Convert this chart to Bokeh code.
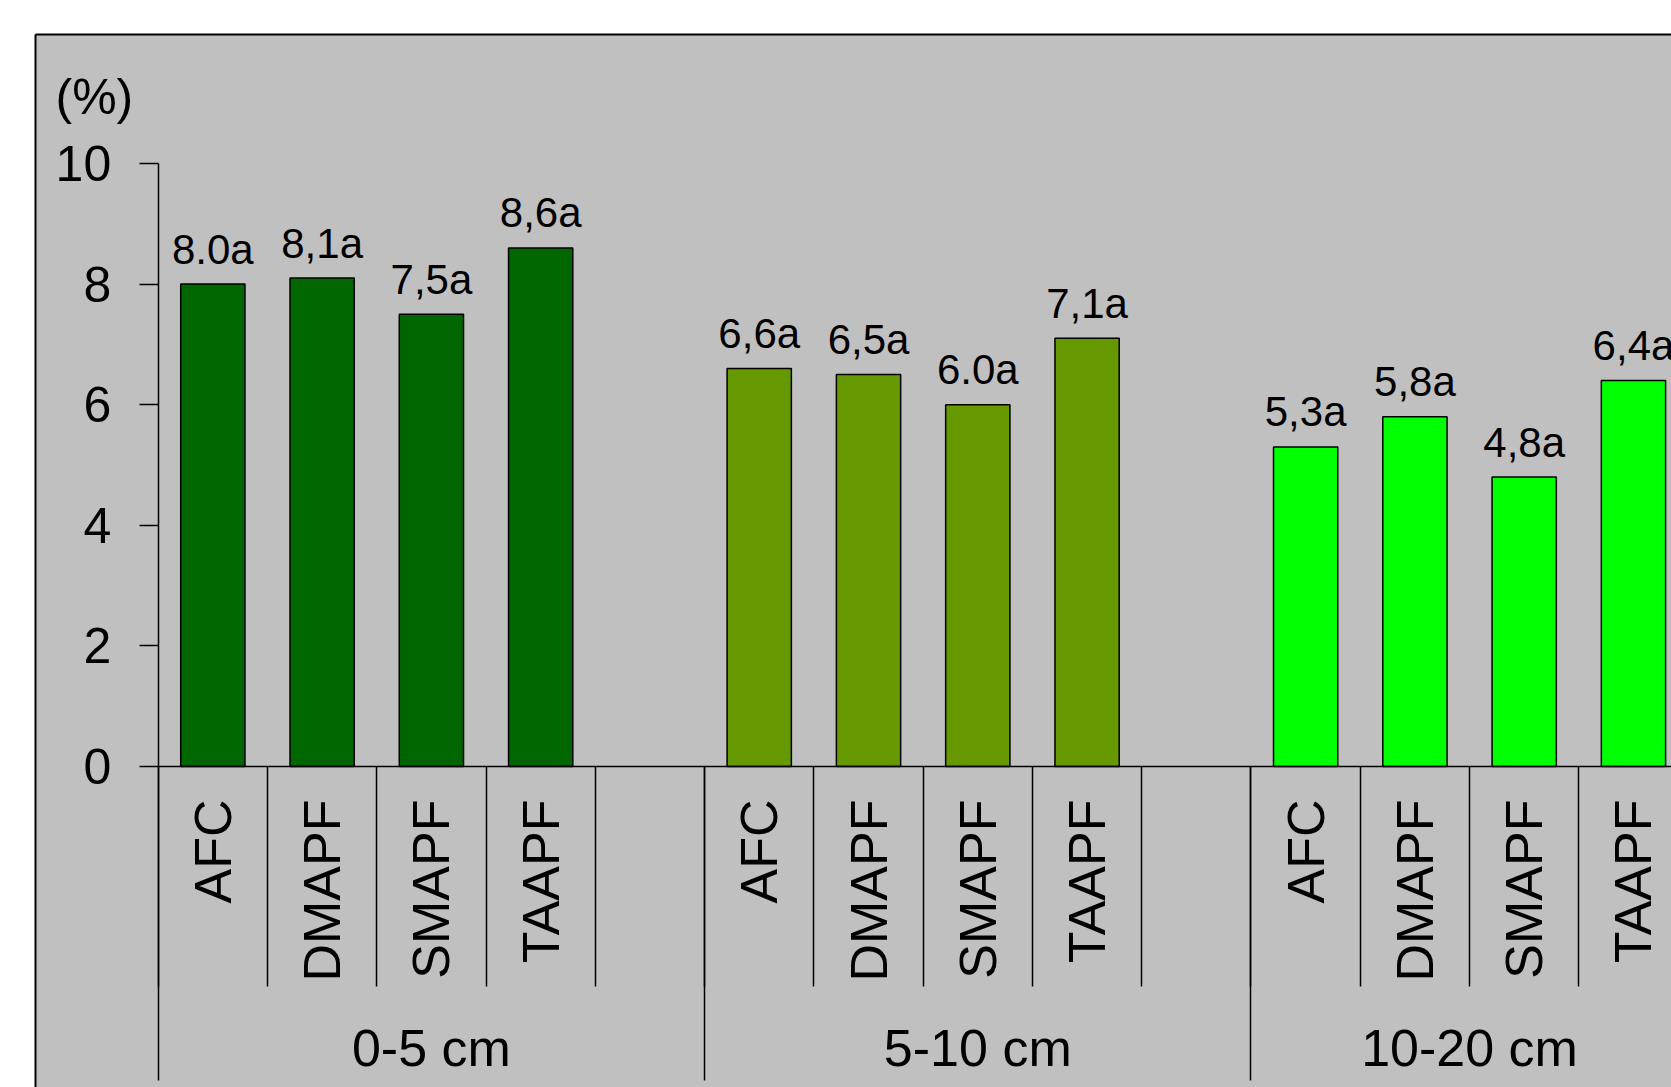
import math
from bokeh.plotting import figure
from bokeh.models import Range1d, LinearAxis, FixedTicker, Label, ColumnDataSource
from bokeh.embed import file_html
from bokeh.resources import INLINE
from bokeh.core.properties import value

# ---- data ----
groups = ["0-5 cm", "5-10 cm", "10-20 cm"]
treatments = ["AFC", "DMAPF", "SMAPF", "TAAPF"]
values_0_5 = [8.0, 8.1, 7.5, 8.6]
values_5_10 = [6.6, 6.5, 6.0, 7.1]
values_10_20 = [5.3, 5.8, 4.8, 6.4]
labels_0_5 = ["8.0a", "8,1a", "7,5a", "8,6a"]
labels_5_10 = ["6,6a", "6,5a", "6.0a", "7,1a"]
labels_10_20 = ["5,3a", "5,8a", "4,8a", "6,4a"]
group_colors = ["#006600", "#669900", "#00FF00"]
y_ticks = [0, 2, 4, 6, 8, 10]
y_label = "(%)"

FONT = "Liberation Sans"

all_values = [values_0_5, values_5_10, values_10_20]
all_labels = [labels_0_5, labels_5_10, labels_10_20]

# slot layout: each group = 4 bars + one empty slot (last group has no trailing slot)
xs, tops, texts, cols = [], [], [], []
treat_x, treat_names = [], []
group_centers = []
group_edges = []
start = 0
for g, (vals, labs) in enumerate(zip(all_values, all_labels)):
    n_slots = len(treatments) + (1 if g < len(groups) - 1 else 0)
    group_edges.append(start)
    for i, (v, lab) in enumerate(zip(vals, labs)):
        xs.append(start + i + 0.5)
        tops.append(v)
        texts.append(lab)
        cols.append(group_colors[g])
        treat_x.append(start + i + 0.5)
        treat_names.append(treatments[i])
    group_centers.append(start + n_slots / 2)
    start += n_slots
total_slots = start
group_edges.append(total_slots)
slot_edges = list(range(total_slots + 1))

src = ColumnDataSource(dict(x=xs, top=tops, label=texts, color=cols))


def key(v):
    return int(v) if float(v).is_integer() else v


p = figure(width=1671, height=1087,
           x_range=Range1d(-1.1228, 13.848), y_range=Range1d(-5.323, 12.139),
           x_axis_type=None, y_axis_type=None,
           toolbar_location=None, output_backend="svg",
           min_border_left=35, min_border_top=34, min_border_right=0, min_border_bottom=0,
           border_fill_color="white", background_fill_color="#c0c0c0",
           outline_line_color=None)
p.grid.visible = False

p.vbar(x="x", top="top", bottom=0, width=0.588, fill_color="color",
       line_color="black", line_width=1.5, source=src)
p.text(x="x", y="top", text="label", text_align="center", text_baseline="alphabetic",
       y_offset=-35, text_font=value(FONT), text_font_size="42px", text_color="black",
       source=src)

# y axis at x=0
yax = LinearAxis(fixed_location=0, bounds=(0, 10),
                 ticker=FixedTicker(ticks=y_ticks, minor_ticks=[]),
                 major_tick_in=0, major_tick_out=19, minor_tick_line_color=None,
                 major_label_standoff=28, major_label_text_font_size="50px",
                 major_label_text_font=FONT, major_label_text_color="black",
                 axis_line_width=1.5, major_tick_line_width=1.5,
                 axis_line_color="black", major_tick_line_color="black")
p.add_layout(yax, "left")

# separators axis at y=0
sep = LinearAxis(fixed_location=0, bounds=(0, total_slots),
                 ticker=FixedTicker(ticks=group_edges, minor_ticks=slot_edges),
                 major_tick_in=0, major_tick_out=314, minor_tick_in=0, minor_tick_out=220,
                 major_tick_line_width=1.5, minor_tick_line_width=1.5,
                 major_tick_line_color="black", minor_tick_line_color="black",
                 axis_line_width=1.5, axis_line_color="black",
                 major_label_text_color=None, major_label_text_font_size="1px")
p.add_layout(sep, "below")

# treatment labels
tax = LinearAxis(fixed_location=0, ticker=FixedTicker(ticks=treat_x, minor_ticks=[]),
                 major_label_overrides={key(x): n for x, n in zip(treat_x, treat_names)},
                 major_label_orientation=math.pi / 2,
                 major_tick_line_color=None, minor_tick_line_color=None, axis_line_color=None,
                 major_label_standoff=27, major_label_text_font_size="52px",
                 major_label_text_font=FONT, major_label_text_color="black")
p.add_layout(tax, "below")

# group labels
gax = LinearAxis(fixed_location=0, ticker=FixedTicker(ticks=group_centers, minor_ticks=[]),
                 major_label_overrides={key(x): n for x, n in zip(group_centers, groups)},
                 major_tick_line_color=None, minor_tick_line_color=None, axis_line_color=None,
                 major_label_standoff=246, major_label_text_font_size="52px",
                 major_label_text_font=FONT, major_label_text_color="black")
p.add_layout(gax, "below")

# chart-area border lines (left and top)
for side in ["left", "above"]:
    bax = LinearAxis(ticker=FixedTicker(ticks=[], minor_ticks=[]),
                     major_tick_line_color=None, minor_tick_line_color=None,
                     major_label_text_color=None, major_label_text_font_size="1px",
                     axis_line_width=2, axis_line_color="black")
    p.add_layout(bax, side)

p.add_layout(Label(x=-0.94, y=11.10, text=y_label, text_align="left",
                   text_baseline="alphabetic", text_font=FONT, text_font_size="50px",
                   text_color="black"))

open("out.html", "w").write(file_html(p, INLINE))
